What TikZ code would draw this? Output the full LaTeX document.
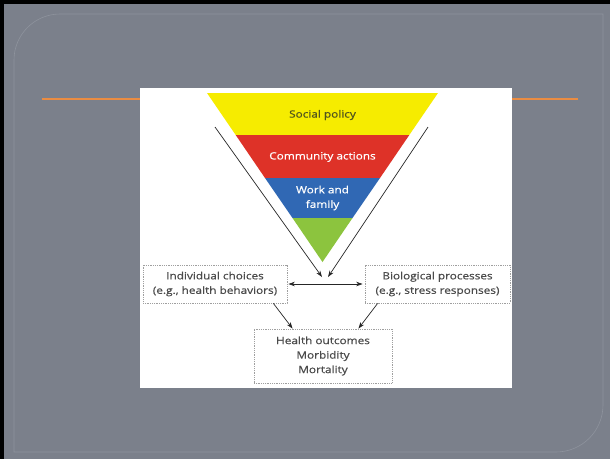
\documentclass[tikz,border=0pt]{standalone}
\usepackage{fontspec}
\usepackage{tikz}
\usetikzlibrary{positioning,arrows.meta}
\newfontfamily\diagfont[FakeStretch=1.18,FakeBold=0.6]{Open Sans}
\definecolor{slidegray}{RGB}{123,128,139}
\definecolor{framegray}{RGB}{142,147,157}
\definecolor{lineorange}{RGB}{234,140,66}
\definecolor{bandyellow}{RGB}{246,236,0}
\definecolor{bandred}{RGB}{222,50,40}
\definecolor{bandblue}{RGB}{48,104,180}
\definecolor{bandgreen}{RGB}{140,196,62}
\definecolor{olivetext}{RGB}{80,84,30}
\definecolor{boxtext}{RGB}{75,75,75}
\tikzset{%
  every box/.style={
    draw=gray!75,
    densely dotted,
    line width=0.8pt,
    fill=white,
    align=center,
    inner sep=0pt,
    text=boxtext,
    font=\diagfont\fontsize{10}{14.5}\selectfont
  },
  band label/.style={
    align=center,
    font=\diagfont\fontsize{10}{14.5}\selectfont
  },
}

\begin{document}
\begin{tikzpicture}[x=1pt,y=-1pt]
    \tikzstyle{link}=[->,>={Stealth[length=6.5pt,width=4.5pt]},line width=0.7pt,black!85]
    % slide background
    \fill[black] (0,0) rectangle (610,459);
    \fill[slidegray] (4,4) rectangle (610,459);
    \draw[framegray,line width=0.6pt] (14,452) -- (14,60) arc (180:270:46) -- (603,14) -- (603,405) arc (0:90:47) -- cycle;
    \draw[lineorange,line width=1.3pt] (42,99) -- (578,99);
    \fill[white] (140,88) rectangle (512,388);
    % inverted triangle
    \fill[bandyellow] (207,93) -- (438,93) -- (409.3,135) -- (235.7,135) -- cycle;
    \fill[bandred] (235.7,135) -- (409.3,135) -- (380,178) -- (265,178) -- cycle;
    \fill[bandblue] (265,178) -- (380,178) -- (352.5,218) -- (292.5,218) -- cycle;
    \fill[bandgreen] (292.5,218) -- (352.5,218) -- (322.5,262) -- cycle;
    \node[band label,text=olivetext](social) at (322.5,115){Social policy};
    \node[band label,text=white](community) at (322.5,157){Community actions};
    \node[band label,text=white](work) at (322.5,198){Work and\\family};
    % side arrows
    \coordinate (ltop) at (215,127);
    \coordinate (lend) at (322,277);
    \coordinate (rtop) at (428,127);
    \coordinate (rend) at (328,277);
    \draw[link] (ltop) -- (lend);
    \draw[link] (rtop) -- (rend);
    % boxes
    \node[every box,minimum width=144,minimum height=38](choices) at (215,284){Individual choices\\(e.g., health behaviors)};
    \node[every box,minimum width=145,minimum height=38](biology) at (437.5,284){Biological processes\\(e.g., stress responses)};
    \node[every box,minimum width=138,minimum height=54](outcomes) at (323,356){Health outcomes\\Morbidity\\Mortality};
    \draw[link,<->,shorten <=1pt,shorten >=2pt] (choices) -- (biology);
    \draw[link] ([xshift=-14]choices.south east) -- ([xshift=39]outcomes.north west);
    \draw[link] ([xshift=13]biology.south west) -- ([xshift=-34]outcomes.north east);
\end{tikzpicture}
\end{document}
